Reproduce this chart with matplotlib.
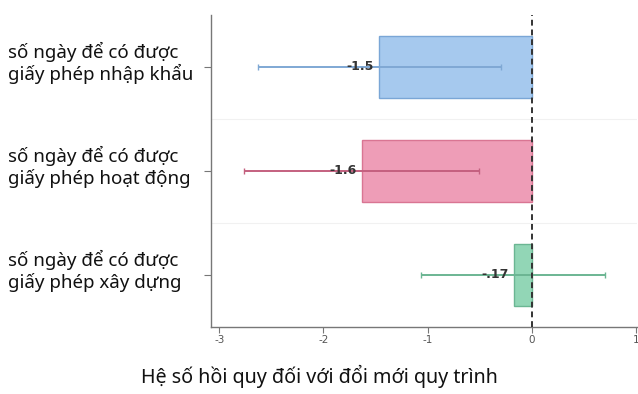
import matplotlib
matplotlib.use("Agg")
import matplotlib.pyplot as plt
import matplotlib.transforms as mtransforms

plt.rcParams['font.family'] = ['Noto Sans', 'DejaVu Sans']

categories = [
    "số ngày để có được\ngiấy phép nhập khẩu",
    "số ngày để có được\ngiấy phép hoạt động",
    "số ngày để có được\ngiấy phép xây dựng",
]
coef = [-1.47, -1.63, -0.17]
ci_low = [-2.63, -2.76, -1.06]
ci_high = [-0.30, -0.51, 0.70]
value_labels = ["-1.5", "-1.6", "-.17"]
xticks = [-3, -2, -1, 0, 1]
xlabel = "Hệ số hồi quy đối với đổi mới quy trình"

face_colors = ["#a6c9ee", "#ee9db7", "#92d6b6"]
edge_colors = ["#7aa6d6", "#d97593", "#6bb693"]
err_colors = ["#7fa8d4", "#c4607f", "#6bb593"]

fig = plt.figure(figsize=(6.38, 3.94), dpi=100)
ax = fig.add_axes([211/638, 67/394, 426/638, 312/394])

ypos = list(range(len(categories)))
for i, y in enumerate(ypos):
    ax.barh(y, coef[i], height=0.6, color=face_colors[i], edgecolor=edge_colors[i],
            linewidth=1.0, zorder=2)
    ax.errorbar(coef[i], y, xerr=[[coef[i] - ci_low[i]], [ci_high[i] - coef[i]]],
                fmt='none', ecolor=err_colors[i], elinewidth=1.4, capsize=2,
                capthick=1.0, zorder=3)
    ax.text(coef[i] - 0.05, y, value_labels[i], ha='right', va='center',
            fontsize=9, color='#333333', fontweight='semibold', zorder=4,
            family='DejaVu Sans')

for yb in [0.5, 1.5]:
    ax.axhline(yb, color='#f1f1f1', lw=0.8, zorder=0)

ax.axvline(0, color='#333333', lw=1.4, ls=(0, (3, 2)), zorder=5)

ax.set_xlim(-3.08, 1.01)
ax.set_ylim(2.5, -0.5)
ax.set_xticks(xticks)
ax.set_xticklabels([str(t) for t in xticks], fontsize=7.5, color='#555555',
                   family='DejaVu Sans')
ax.tick_params(axis='x', length=4, width=0.8, color='#777777', pad=2)
ax.set_yticks(ypos)
ax.set_yticklabels([])
ax.tick_params(axis='y', length=5, width=0.8, color='#777777')

for s in ['top', 'right']:
    ax.spines[s].set_visible(False)
for s in ['left', 'bottom']:
    ax.spines[s].set_color('#777777')
    ax.spines[s].set_linewidth(1.0)

trans = mtransforms.blended_transform_factory(fig.transFigure, ax.transData)
for i, y in enumerate(ypos):
    ax.text(8/638, y - 0.04, categories[i], transform=trans, ha='left', va='center',
            fontsize=13.5, color='#111111', linespacing=1.15, clip_on=False)

fig.text(0.5, 11/394, xlabel, ha='center', va='baseline', fontsize=14.2, color='#111111')

fig.savefig("out.png", dpi=100)
